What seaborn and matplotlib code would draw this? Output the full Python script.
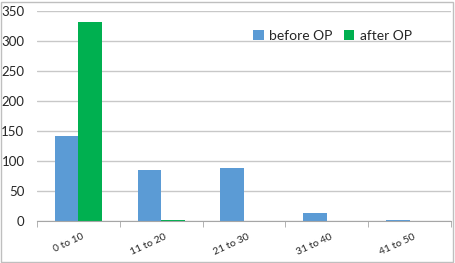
import numpy as np
import pandas as pd
import matplotlib
matplotlib.use("Agg")
import matplotlib.pyplot as plt
import matplotlib.transforms as mtransforms
import seaborn as sns
from matplotlib.patches import Rectangle

categories = ["0 to 10", "11 to 20", "21 to 30", "31 to 40", "41 to 50"]
before_op = [142, 85, 88, 13, 2]
after_op = [332, 1, 0, 0, 0]
series = ["before OP", "after OP"]
colors = ["#5B9BD5", "#00B050"]

df = pd.DataFrame(
    {
        "range": categories * 2,
        "count": before_op + after_op,
        "group": [series[0]] * len(categories) + [series[1]] * len(categories),
    }
)

sns.set_style("white")
plt.rcParams["font.family"] = ["Lato", "DejaVu Sans"]

fig = plt.figure(figsize=(4.56, 2.63), dpi=100)
ax = fig.add_axes([0.081, 0.16, 0.908, 0.798])

sns.barplot(
    data=df, x="range", y="count", hue="group", palette=colors,
    width=0.57, ax=ax, legend=True, saturation=1, linewidth=0,
)

ax.set_ylim(0, 350)
ax.set_yticks(range(0, 351, 50))
ax.set_xlim(-0.5, len(categories) - 0.5)
ax.yaxis.grid(True, color="#C8C8C8", linewidth=1)
ax.set_axisbelow(True)
for side in ["top", "right", "left"]:
    ax.spines[side].set_visible(False)
ax.spines["bottom"].set_color("#A6A6A6")
ax.set_xlabel("")
ax.set_ylabel("")

ax.set_xticks(np.arange(-0.5, len(categories), 1.0), minor=True)
ax.tick_params(axis="x", which="minor", length=4, color="#A6A6A6", direction="out", bottom=True)
ax.tick_params(axis="x", which="major", length=0, labelsize=7.5, pad=8)
ax.tick_params(axis="y", length=0, labelsize=9.5, pad=9)
offset = mtransforms.ScaledTranslation(3 / 100, 0, fig.dpi_scale_trans)
for lbl in ax.get_xticklabels():
    lbl.set_rotation(25)
    lbl.set_ha("right")
    lbl.set_va("top")
    lbl.set_rotation_mode("anchor")
    lbl.set_transform(lbl.get_transform() + offset)

ax.legend(
    title=None, frameon=False, ncol=2, fontsize=10,
    handlelength=0.75, handleheight=0.75, handletextpad=0.4, columnspacing=0.8,
    loc="upper right", bbox_to_anchor=(0.935, 0.97),
)

fig.patches.append(
    Rectangle((0.002, 0.004), 0.992, 0.99, transform=fig.transFigure,
              fill=False, edgecolor="#BFBFBF", linewidth=1)
)

fig.savefig("out.png", dpi=100)
